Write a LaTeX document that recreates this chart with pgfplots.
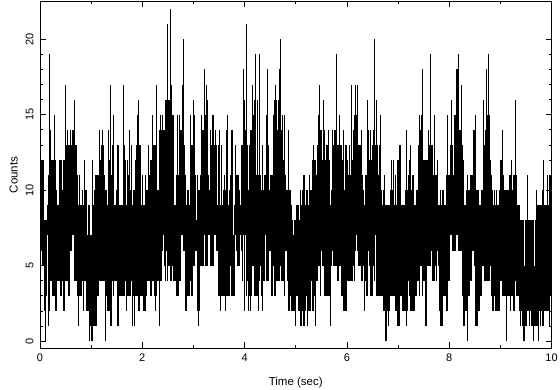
\documentclass[border=0pt]{standalone}
\usepackage{fontspec}
\setmainfont{Liberation Sans}
\usepackage{pgfplots}
\usepackage{pgfplotstable}
\pgfplotsset{compat=1.18}
\pgfplotstableread[row sep=\\]{
lo hi\\
6 12\\6 12\\5 12\\5 12\\2 8\\2 8\\3 8\\7 9\\1 11\\2 19\\
4 14\\4 12\\3 12\\3 12\\3 15\\2 12\\2 10\\4 9\\4 9\\4 12\\
3 12\\3 12\\4 10\\2 12\\2 12\\4 17\\4 13\\4 14\\3 13\\3 13\\
6 14\\6 13\\7 14\\7 14\\4 16\\4 13\\4 13\\3 11\\1 9\\3 11\\
3 9\\3 9\\4 10\\2 9\\4 12\\4 10\\2 10\\2 7\\2 9\\0 9\\
1 7\\0 7\\0 12\\1 9\\1 10\\1 11\\1 11\\3 11\\3 11\\4 14\\
4 12\\4 13\\4 14\\4 13\\4 11\\0 10\\3 10\\2 9\\2 14\\2 12\\
1 17\\1 11\\4 13\\3 15\\4 9\\4 9\\4 10\\1 13\\1 13\\3 9\\
3 9\\3 9\\3 9\\3 17\\3 13\\4 12\\2 9\\3 12\\3 11\\3 14\\
3 10\\4 13\\1 9\\3 10\\1 10\\3 12\\3 13\\3 15\\2 16\\2 13\\
3 13\\3 9\\3 11\\2 9\\2 9\\2 11\\3 10\\4 10\\4 13\\4 11\\
3 12\\3 12\\4 15\\4 13\\3 13\\2 13\\3 17\\4 10\\4 10\\1 14\\
4 15\\4 14\\6 15\\7 14\\5 14\\4 16\\6 16\\4 21\\5 16\\5 16\\
4 22\\4 17\\5 15\\4 15\\4 9\\4 9\\3 11\\3 15\\3 11\\4 15\\
4 14\\7 14\\7 17\\6 20\\6 13\\2 11\\2 9\\3 10\\3 10\\3 9\\
4 15\\3 13\\3 13\\5 16\\5 15\\6 11\\6 8\\2 11\\1 10\\2 10\\
5 11\\5 15\\5 14\\5 14\\7 18\\5 15\\5 17\\5 16\\7 11\\7 10\\
5 14\\5 13\\5 15\\5 15\\7 13\\7 14\\6 13\\6 9\\3 13\\3 14\\
2 9\\3 13\\3 9\\3 10\\3 11\\2 10\\3 14\\3 15\\3 9\\3 10\\
5 11\\3 14\\3 14\\3 7\\3 9\\7 13\\6 11\\5 11\\5 11\\5 10\\
7 9\\6 13\\4 13\\7 18\\2 16\\7 14\\3 21\\4 13\\2 10\\3 13\\
2 14\\3 14\\5 17\\5 15\\3 16\\3 19\\3 11\\3 16\\2 11\\4 19\\
5 11\\3 10\\2 13\\4 10\\4 11\\7 11\\4 15\\4 18\\4 13\\6 10\\
6 11\\3 11\\3 11\\5 15\\3 16\\3 17\\4 16\\4 14\\4 16\\4 18\\
5 20\\4 14\\4 15\\4 12\\3 15\\6 11\\6 10\\4 10\\2 14\\2 10\\
3 10\\2 9\\2 8\\2 7\\2 8\\1 8\\3 9\\3 9\\2 9\\2 8\\
1 10\\1 9\\2 10\\1 11\\1 11\\2 9\\3 10\\1 10\\2 9\\2 11\\
2 10\\4 10\\2 12\\2 13\\3 12\\1 12\\4 11\\4 13\\5 15\\5 17\\
3 14\\6 14\\5 12\\5 16\\3 14\\3 12\\3 13\\3 13\\3 14\\3 12\\
1 9\\5 10\\6 14\\5 13\\5 14\\5 14\\5 19\\4 13\\4 13\\5 15\\
5 13\\3 13\\3 12\\2 14\\2 10\\2 13\\2 13\\4 12\\4 11\\4 13\\
4 11\\4 17\\4 12\\5 14\\4 15\\6 17\\7 15\\6 17\\5 13\\5 13\\
5 13\\4 14\\4 11\\5 10\\2 9\\4 11\\3 11\\3 16\\6 14\\5 12\\
3 14\\3 12\\3 13\\5 14\\4 20\\7 13\\3 16\\3 13\\3 11\\3 13\\
3 15\\3 10\\3 9\\2 10\\2 11\\0 9\\0 9\\2 9\\1 9\\2 9\\
3 10\\3 12\\3 10\\3 12\\3 9\\2 11\\2 9\\1 12\\1 12\\1 13\\
3 13\\3 9\\2 9\\2 9\\2 9\\2 10\\1 14\\2 10\\4 11\\3 12\\
2 13\\2 10\\2 11\\2 11\\2 9\\3 9\\3 10\\4 10\\4 13\\3 15\\
5 14\\5 15\\3 18\\4 12\\4 12\\1 12\\1 12\\5 12\\5 14\\5 13\\
5 19\\6 13\\4 13\\4 11\\4 15\\5 11\\4 11\\6 12\\5 9\\2 9\\
1 10\\1 9\\1 10\\3 10\\3 9\\3 9\\2 11\\2 15\\4 11\\4 11\\
7 13\\7 16\\6 13\\6 11\\6 15\\6 15\\7 18\\7 18\\6 19\\6 14\\
6 14\\6 17\\3 13\\1 12\\1 9\\2 9\\2 10\\0 11\\3 10\\3 10\\
4 11\\4 11\\6 11\\6 14\\5 14\\1 15\\1 10\\1 10\\2 10\\2 9\\
3 9\\3 10\\5 10\\5 16\\4 13\\4 14\\4 18\\4 15\\4 19\\4 15\\
5 12\\3 11\\2 10\\2 9\\3 10\\2 9\\2 10\\2 9\\2 9\\2 10\\
4 12\\4 12\\3 14\\3 11\\3 10\\3 10\\0 10\\3 10\\3 10\\3 11\\
2 11\\3 12\\3 10\\2 11\\2 11\\4 16\\3 11\\3 9\\3 9\\2 9\\
1 8\\2 8\\1 8\\0 8\\0 5\\1 8\\1 8\\2 11\\2 8\\1 8\\
2 8\\1 8\\1 8\\0 8\\1 5\\1 8\\1 10\\1 9\\0 9\\2 9\\
1 9\\2 9\\1 10\\1 12\\2 9\\2 9\\2 9\\2 11\\2 9\\1 11\\
3 11\\3 10\\
}\counts

\begin{document}
\begin{tikzpicture}
\path[use as bounding box] (0pt,0pt) rectangle (560pt,389pt);
\begin{axis}[
    at={(40pt,40.7pt)}, anchor=south west,
    scale only axis, width=511.5pt, height=346.8pt,
    xmin=0, xmax=10, ymin=-0.48, ymax=22.5,
    xtick={0,2,4,6,8,10}, ytick={0,5,10,15,20},
    minor x tick num=1, minor y tick num=4,
    tick align=inside, major tick length=6pt, minor tick length=3pt,
    axis line style={line width=0.8pt},
    every tick/.style={black,line width=0.7pt},
    /pgf/number format/assume math mode=true,
    tick label style={font=\fontsize{11}{11}\selectfont},
    x tick label style={yshift=-2pt},
    y tick label style={rotate=90,anchor=south,yshift=3pt},
    xlabel={Time (sec)}, ylabel={Counts},
    label style={font=\fontsize{11.5}{12}\selectfont},
    xlabel style={yshift=-9pt},
    ylabel style={yshift=1pt},
]
\addplot[draw=none, no marks, black,
    error bars/.cd, y dir=plus, y explicit, error mark=none,
    error bar style={black, line width=1pt}]
    table[x expr=\coordindex*0.01955+0.01, y=lo, y error expr=\thisrow{hi}-\thisrow{lo}] {\counts};
\addplot[black, line width=0.8pt] coordinates {(0,0) (0.1,0) (0.1,3)};
\end{axis}
\end{tikzpicture}
\end{document}
